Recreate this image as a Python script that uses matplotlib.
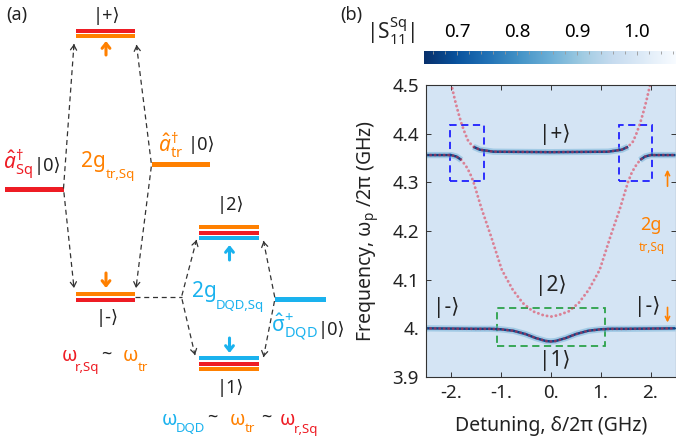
import matplotlib
matplotlib.use("Agg")
import matplotlib.pyplot as plt
from matplotlib.patches import Rectangle
from matplotlib.colors import Normalize
from matplotlib.cm import ScalarMappable

plt.rcParams["font.family"] = ["Noto Sans", "DejaVu Sans"]
plt.rcParams["mathtext.fontset"] = "custom"
plt.rcParams["mathtext.rm"] = "Noto Sans"
plt.rcParams["mathtext.it"] = "Noto Sans:italic"
plt.rcParams["mathtext.sf"] = "Noto Sans"

RED = "#ee1c24"
ORANGE = "#ff8000"
CYAN = "#1ab2ee"
INK = "#222222"

# ---------------- panel (b): values (GHz) ----------------
# lowest branch: |-> far out, |1> at zero detuning
low_x = [-2.5, -1.5, -1.2, -1.0, -0.75, -0.5, -0.3, -0.1, 0.0, 0.1, 0.3, 0.5, 0.75, 1.0, 1.2, 1.5, 2.5]
low_y = [4.000, 3.999, 3.999, 3.998, 3.995, 3.988, 3.980, 3.974, 3.973, 3.974, 3.980, 3.988, 3.995, 3.998, 3.999, 3.999, 4.000]
# middle branch: outer |+> line far out, |2> at zero detuning
mid_x = [-2.5, -2.0, -1.89, -1.79, -1.69, -1.62, -1.55, -1.49, -1.39, -1.2, -0.98, -0.76, -0.56, -0.36, -0.15, 0.0,
         0.15, 0.36, 0.56, 0.76, 0.98, 1.2, 1.39, 1.49, 1.55, 1.62, 1.69, 1.79, 1.89, 2.0, 2.5]
mid_y = [4.356, 4.356, 4.353, 4.346, 4.332, 4.319, 4.301, 4.281, 4.247, 4.190, 4.120, 4.079, 4.052, 4.035, 4.027, 4.024,
         4.027, 4.035, 4.052, 4.079, 4.120, 4.190, 4.247, 4.281, 4.301, 4.319, 4.332, 4.346, 4.353, 4.356, 4.356]
# top branch: inner |+> line that turns into the DQD line
top_x = [-2.05, -1.99, -1.92, -1.85, -1.79, -1.72, -1.65, -1.55, -1.42, -1.15, 0.0,
         1.15, 1.42, 1.55, 1.65, 1.72, 1.79, 1.85, 1.92, 1.99, 2.05]
top_y = [4.52, 4.50, 4.469, 4.442, 4.421, 4.401, 4.384, 4.373, 4.367, 4.363, 4.362,
         4.363, 4.367, 4.373, 4.384, 4.401, 4.421, 4.442, 4.469, 4.50, 4.52]

bg_level = 0.99      # |S11| of the empty background
line_level = 0.68    # |S11| on the resonances
halo_level = 0.86

cbar_ticks = [0.7, 0.8, 0.9, 1.0]
cbar_labels = ["0.7", "0.8", "0.9", "1.0"]
cbar_minor = [0.66, 0.68, 0.72, 0.74, 0.76, 0.78, 0.82, 0.84, 0.86, 0.88, 0.92, 0.94, 0.96, 0.98, 1.02, 1.04, 1.06]
x_ticks = [-2, -1, 0, 1, 2]
x_labels = ["-2.", "-1.", "0.", "1.", "2."]
y_ticks = [3.9, 4.0, 4.1, 4.2, 4.3, 4.4, 4.5]
y_labels = ["3.9", "4.", "4.1", "4.2", "4.3", "4.4", "4.5"]

# dashed boxes: x0, y0, width, height
blue_boxes = [(-2.02, 4.302, 0.68, 0.116), (1.36, 4.302, 0.67, 0.116)]
green_box = (-1.07, 3.963, 2.15, 0.079)

# labels on the map: x, y, text, colour, size
map_texts = [
    (0.08, 4.399, "|+⟩", INK, 15),
    (0.01, 4.088, "|2⟩", INK, 15),
    (0.08, 3.934, "|1⟩", INK, 15),
    (-2.10, 4.043, "|-⟩", INK, 15),
    (1.94, 4.045, "|-⟩", INK, 15),
    (2.01, 4.213, "2g", ORANGE, 13),
    (2.03, 4.167, "tr,Sq", ORANGE, 8.5),
]
map_arrows = [(2.34, 4.292, 2.34, 4.326), (2.34, 4.043, 2.34, 4.012)]

# ---------------- panel (a): schematic, in picture pixels ----------------
# x start, x end, centre heights, colours, thickness
levels = [
    (76, 135, [31.2, 36.3], [RED, ORANGE], 3.9),                    # |+>
    (76, 135, [294.3, 299.7], [ORANGE, RED], 3.9),                  # |->
    (5, 63.5, [189.2], [RED], 5.0),                                 # a_Sq |0>
    (152, 209.5, [164.8], [ORANGE], 5.0),                           # a_tr |0>
    (275, 325.5, [299.2], [CYAN], 5.0),                             # sigma_DQD |0>
    (198.5, 259, [227.2, 232.5, 237.8], [ORANGE, RED, CYAN], 4.0),  # |2>
    (198.5, 259, [358.3, 363.8, 369.3], [CYAN, RED, ORANGE], 4.0),  # |1>
]
couplings = [
    [(74, 44), (63.5, 188.5), (74, 288)],
    [(136.5, 45), (151.5, 165), (136, 288)],
    [(196.5, 240), (181.5, 297), (195, 355)],
    [(263.5, 241), (275, 298.5), (263.5, 357)],
]
link = [(135, 297), (181.5, 297)]
shifts = [(106, 55, 106, 41, ORANGE), (106, 273, 106, 288, ORANGE),
          (229.5, 260, 229.5, 245, CYAN), (229.5, 338, 229.5, 353, CYAN)]

# x, y, text, colour, size
schema_texts = [
    (17, 15, "(a)", INK, 13),
    (351, 15, "(b)", INK, 13),
    (106, 16, "|+⟩", INK, 13),
    (107, 318, "|-⟩", INK, 13),
    (230, 205, "|2⟩", INK, 13),
    (230, 388, "|1⟩", INK, 13),
    (18, 165, r"$\hat{a}^{\dagger}_{\mathrm{Sq}}$", RED, 15),
    (47, 166, "|0⟩", INK, 13),
    (171, 145, r"$\hat{a}^{\dagger}_{\mathrm{tr}}$", ORANGE, 15),
    (201, 145, "|0⟩", INK, 13),
    (93.5, 161, "2g", ORANGE, 15),
    (120.5, 174.5, "tr,Sq", ORANGE, 9.5),
    (204, 292, "2g", CYAN, 15),
    (240, 305, "DQD,Sq", CYAN, 9.5),
    (294, 327, r"$\hat{\mathrm{σ}}^{+}_{\mathrm{DQD}}$", CYAN, 15),
    (331, 330, "|0⟩", INK, 13),
    (69.5, 356, "ω", RED, 14),
    (87.5, 367.5, "r,Sq", RED, 9.5),
    (106, 355, "~", INK, 13),
    (130.5, 356, "ω", ORANGE, 14),
    (143, 367.5, "tr", ORANGE, 9.5),
    (169.5, 420, "ω", CYAN, 14),
    (190.5, 428, "DQD", CYAN, 9.5),
    (212.5, 418, "~", INK, 13),
    (237.5, 420, "ω", ORANGE, 14),
    (249.5, 429, "tr", ORANGE, 9.5),
    (266, 418, "~", INK, 13),
    (287.5, 420, "ω", RED, 14),
    (306.5, 430, "r,Sq", RED, 9.5),
]

fig = plt.figure(figsize=(6.76, 4.45), dpi=100)

# overlay in pixel units for the schematic
ov = fig.add_axes([0, 0, 1, 1])
ov.set_xlim(0, 676)
ov.set_ylim(445, 0)
ov.axis("off")

for x0, x1, ys, cols, h in levels:
    for yc, c in zip(ys, cols):
        ov.add_patch(Rectangle((x0, yc - h / 2), x1 - x0, h, facecolor=c, lw=0))

dash_kw = dict(color="#333333", lw=0.9, ls=(0, (4, 3)))
head = dict(arrowstyle="->,head_length=0.35,head_width=0.22", color="#333333", lw=0.9,
            shrinkA=0, shrinkB=0)
for path in couplings:
    ov.plot([p[0] for p in path], [p[1] for p in path], **dash_kw)
    for end, nxt in ((path[0], path[1]), (path[-1], path[-2])):
        near = (end[0] + 0.04 * (nxt[0] - end[0]), end[1] + 0.04 * (nxt[1] - end[1]))
        ov.annotate("", xy=end, xytext=near, arrowprops=head)
ov.plot([p[0] for p in link], [p[1] for p in link], **dash_kw)

for x0, y0, x1, y1, c in shifts:
    ov.annotate("", xy=(x1, y1), xytext=(x0, y0),
                arrowprops=dict(arrowstyle="->,head_length=0.35,head_width=0.28", color=c, lw=2.2,
                                shrinkA=0, shrinkB=0))

for x, y, s, c, size in schema_texts:
    ov.text(x, y, s, color=c, fontsize=size, ha="center", va="center")

ov.text(391, 31, r"$|\mathrm{S}_{11}^{\mathrm{Sq}}|$", color=INK, fontsize=15, ha="center", va="center")

# ---------------- panel (b) ----------------
cmap = plt.get_cmap("Blues_r")
norm = Normalize(0.645, 1.065)

ax = fig.add_axes([426 / 676, 1 - 377 / 445, 249.5 / 676, 292 / 445])
ax.set_xlim(-2.5, 2.5)
ax.set_ylim(3.9, 4.5)
ax.set_facecolor(cmap(norm(bg_level)))

# strong (resonator-like) parts of the measured branches
measured = [
    (low_x, low_y),
    (mid_x[:4], mid_y[:4]),
    (mid_x[-4:], mid_y[-4:]),
    (top_x[7:-7], top_y[7:-7]),
]
for xs, ys in measured:
    ax.plot(xs, ys, color=cmap(norm(halo_level)), lw=4.5, alpha=0.5, solid_capstyle="butt")
    ax.plot(xs, ys, color=cmap(norm(line_level)), lw=1.8, solid_capstyle="butt")

for xs, ys in ((low_x, low_y), (mid_x, mid_y), (top_x, top_y)):
    ax.plot(xs, ys, color="#e03048", alpha=0.55, lw=2.1, ls=(0, (0.05, 1.5)),
            dash_capstyle="round")

for x0, y0, w, h in blue_boxes:
    ax.add_patch(Rectangle((x0, y0), w, h, fill=False, ec="#1f1fff", lw=1.3, ls=(0, (4, 2.5))))
ax.add_patch(Rectangle(green_box[:2], green_box[2], green_box[3], fill=False, ec="#2ca24a",
                       lw=1.3, ls=(0, (4, 2.5))))

for x, y, s, c, size in map_texts:
    ax.text(x, y, s, color=c, fontsize=size, ha="center", va="center")
for x0, y0, x1, y1 in map_arrows:
    ax.annotate("", xy=(x1, y1), xytext=(x0, y0),
                arrowprops=dict(arrowstyle="->,head_length=0.3,head_width=0.15", color=ORANGE, lw=1.2,
                                shrinkA=0, shrinkB=0))

ax.set_xticks(x_ticks, labels=x_labels)
ax.set_yticks(y_ticks, labels=y_labels)
ax.tick_params(direction="in", length=3.5, width=0.7, colors="#333333", labelcolor=INK, labelsize=13.5,
               top=True, right=True, pad=5)
for sp in ax.spines.values():
    sp.set_color("#333333")
    sp.set_linewidth(0.8)
ax.set_xlabel("Detuning, δ/2π (GHz)", fontsize=14, color=INK, labelpad=10)
ax.set_ylabel(r"Frequency, ω$_\mathrm{p}$ /2π (GHz)", fontsize=14, color=INK, labelpad=8)

# colour bar on top
cax = fig.add_axes([424 / 676, 1 - 64 / 445, 252 / 676, 13 / 445])
sm = ScalarMappable(norm=norm, cmap=cmap)
cb = fig.colorbar(sm, cax=cax, orientation="horizontal")
cb.outline.set_visible(False)
cax.xaxis.set_ticks_position("top")
cb.set_ticks(cbar_ticks, labels=cbar_labels)
cax.set_xticks(cbar_minor, minor=True)
cax.tick_params(which="both", direction="in", color="#999999", width=0.6, labelsize=13.5, pad=7)
cax.tick_params(which="major", length=3)
cax.tick_params(which="minor", length=1.8)

fig.savefig("out.png", dpi=100)
